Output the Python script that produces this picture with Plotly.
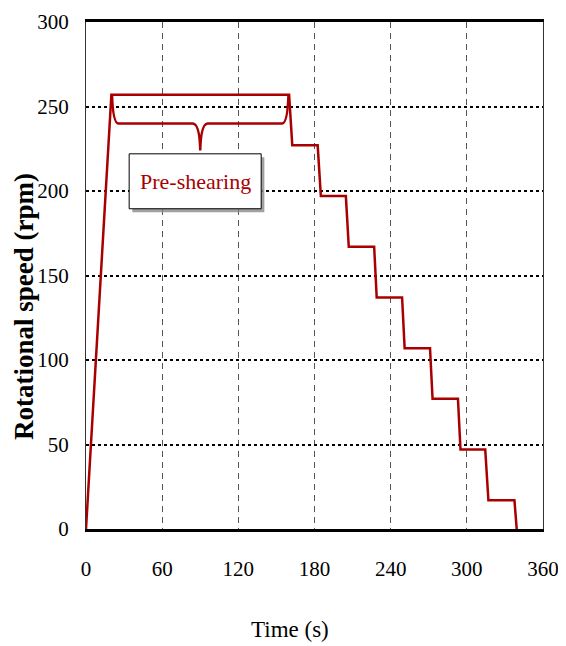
import plotly.graph_objects as go

# Data: speed profile (time in s, rotational speed in rpm)
time_s = [0, 20, 160, 162.5, 182.5, 185, 204.7, 207, 227, 229, 249, 251, 271,
          273, 293, 295, 314.5, 317, 337.5, 339.3]
speed_rpm = [0, 257, 257, 227, 227, 197, 197, 167, 167, 137, 137, 107, 107,
             77, 77, 47, 47, 17, 17, 0]

x_ticks = [0, 60, 120, 180, 240, 300, 360]
y_ticks = [0, 50, 100, 150, 200, 250, 300]

# Pre-shearing annotation geometry (data units)
pre_start, pre_end, pre_level = 20.5, 159.5, 257
brace_low, brace_tip = 240, 224
label_box = dict(x0=34, x1=138, y0=189.5, y1=222)
label_text = "Pre-shearing"

RED = "#a80000"
FONT = "Liberation Serif"

fig = go.Figure()
fig.add_trace(go.Scatter(x=time_s, y=speed_rpm, mode="lines",
                         line=dict(color=RED, width=2.5), showlegend=False))

mid = (pre_start + pre_end) / 2
path = (f"M {pre_start},{pre_level} Q {pre_start+0.8},{brace_low} {pre_start+5},{brace_low} "
        f"L {mid-6},{brace_low} Q {mid-0.5},{brace_low} {mid},{brace_tip} "
        f"Q {mid+0.5},{brace_low} {mid+6},{brace_low} "
        f"L {pre_end-5},{brace_low} Q {pre_end-0.8},{brace_low} {pre_end},{pre_level}")
fig.add_shape(type="path", path=path, xref="x", yref="y",
              line=dict(color=RED, width=2.5))

# shadow + box
fig.add_shape(type="rect", xref="x", yref="y",
              x0=label_box["x0"] + 2.5, x1=label_box["x1"] + 2.5,
              y0=label_box["y0"] - 2, y1=label_box["y1"] - 2,
              fillcolor="#8a8a8a", line=dict(width=0), opacity=0.8)
fig.add_shape(type="rect", xref="x", yref="y", **label_box,
              fillcolor="white", line=dict(color="black", width=1))
fig.add_annotation(x=(label_box["x0"] + label_box["x1"]) / 2,
                   y=(label_box["y0"] + label_box["y1"]) / 2,
                   xref="x", yref="y", text=label_text, showarrow=False,
                   font=dict(family=FONT, size=22, color=RED))

# axis titles
fig.add_annotation(text="<b>Rotational speed (rpm)</b>", textangle=-90,
                   xref="paper", yref="paper", x=0, y=0.438,
                   xanchor="center", yanchor="middle", xshift=-62,
                   showarrow=False, font=dict(family=FONT, size=27, color="black"))
fig.add_annotation(text="Time (s)", xref="paper", yref="paper", x=0.446, y=0,
                   xanchor="center", yanchor="middle", yshift=-100,
                   showarrow=False, font=dict(family=FONT, size=23, color="black"))

fig.update_xaxes(range=[0, 360], tickvals=x_ticks, ticks="",
                 showgrid=True, gridcolor="#555555", gridwidth=1, griddash="6px,5px",
                 showline=True, linecolor="black", linewidth=2.5, mirror=True,
                 zeroline=False, ticklabelstandoff=19, automargin=False,
                 tickfont=dict(family=FONT, size=21, color="black"))
fig.update_yaxes(range=[0, 300], tickvals=y_ticks, ticks="",
                 showgrid=True, gridcolor="black", gridwidth=1.5, griddash="3px,3px",
                 showline=True, linecolor="#333333", linewidth=1.2, mirror=True,
                 zeroline=False, ticklabelstandoff=12, automargin=False,
                 tickfont=dict(family=FONT, size=21, color="black"))

# The page body has an 8px default margin, so the figure is sized to fit the window.
fig.update_layout(width=558, height=638,
                  margin=dict(l=78, r=23, t=14, b=117),
                  plot_bgcolor="white", paper_bgcolor="white")

fig.write_html("out.html")
